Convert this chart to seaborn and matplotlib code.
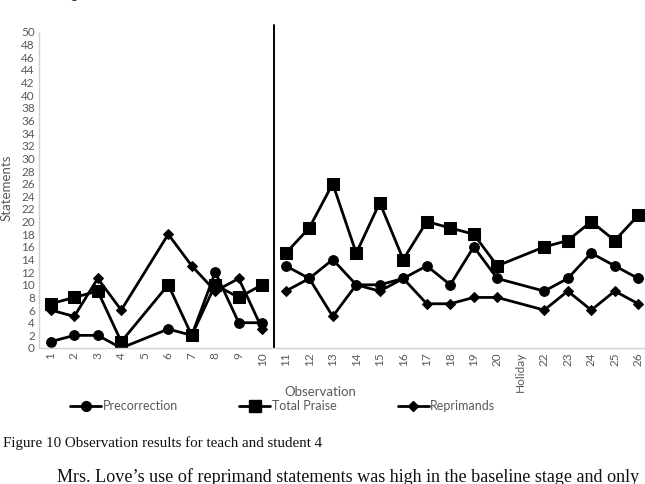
import numpy as np
import pandas as pd
import matplotlib
matplotlib.use("Agg")
import matplotlib.pyplot as plt
from matplotlib.lines import Line2D
import seaborn as sns

# observation labels (position 21 was a holiday, no data; observation 5 has no data)
obs_labels = [str(i) for i in range(1, 21)] + ['Holiday'] + [str(i) for i in range(22, 27)]
precorrection = [1, 2, 2, 0, None, 3, 2, 12, 4, 4,
                 13, 11, 14, 10, 10, 11, 13, 10, 16, 11, None, 9, 11, 15, 13, 11]
total_praise = [7, 8, 9, 1, None, 10, 2, 10, 8, 10,
                15, 19, 26, 15, 23, 14, 20, 19, 18, 13, None, 16, 17, 20, 17, 21]
reprimands = [6, 5, 11, 6, None, 18, 13, 9, 11, 3,
              9, 11, 5, 10, 9, 11, 7, 7, 8, 8, None, 6, 9, 6, 9, 7]
n_baseline = 10

series = {'Precorrection': precorrection, 'Total Praise': total_praise, 'Reprimands': reprimands}
styles = {'Precorrection': ('o', 7), 'Total Praise': ('s', 8), 'Reprimands': ('D', 5.5)}

rows = []
for name, vals in series.items():
    for i, v in enumerate(vals):
        if v is None:
            continue
        rows.append({'pos': i, 'value': v, 'series': name,
                     'phase': 'Baseline' if i < n_baseline else 'Intervention'})
df = pd.DataFrame(rows)

sns.set_style('white')
plt.rcParams['font.family'] = ['Lato', 'DejaVu Sans']
grey = '#595959'

fig = plt.figure(figsize=(6.45, 4.84), dpi=100)
ax = fig.add_axes([39 / 645, 1 - 348 / 484, 611 / 645, 316 / 484])

for name in series:
    mk, ms = styles[name]
    sns.lineplot(data=df[df.series == name], x='pos', y='value', units='phase',
                 estimator=None, color='black', marker=mk, markersize=ms,
                 markeredgecolor='black', lw=2, legend=False, ax=ax)

# phase change line
ax.axvline(n_baseline - 0.5, 0, 1.022, color='black', lw=1.4, clip_on=False)

ax.set_xlim(-0.5, len(obs_labels) - 0.5)
ax.set_ylim(0, 50)
ax.set_xticks(range(len(obs_labels)))
ax.set_xticklabels(obs_labels, rotation=90, fontsize=8.5, color=grey)
ax.set_yticks(range(0, 51, 2))
ax.set_yticklabels([str(t) for t in range(0, 51, 2)], fontsize=8.5, color=grey)
ax.tick_params(length=0, pad=3)
ax.set_xlabel('')
ax.set_ylabel('')
for s in ['top', 'right']:
    ax.spines[s].set_visible(False)
for s in ['left', 'bottom']:
    ax.spines[s].set_color('#d0d0d0')
    ax.spines[s].set_linewidth(1)

fig.text(7 / 645, 1 - 188 / 484, 'Statements', rotation=90, ha='center', va='center',
         fontsize=9.5, color=grey)
fig.text(320 / 645, 1 - 392 / 484, 'Observation', ha='center', va='center',
         fontsize=9.5, color=grey)

handles = [Line2D([], [], color='black', lw=2, marker=styles[n][0], markersize=styles[n][1])
           for n in series]
fig.legend(handles, list(series), loc='center left', bbox_to_anchor=(70 / 645, 1 - 406 / 484),
           ncol=3, frameon=False, fontsize=9, handlelength=2.5, handletextpad=0.1,
           columnspacing=4.9, borderpad=0, borderaxespad=0, labelcolor=grey)

# surrounding document text
fig.text(5 / 645, 1.012, 'and averages.', va='center', fontsize=11, color='#333333')
fig.text(3 / 645, 1 - 443 / 484, 'Figure 10 Observation results for teach and student 4',
         va='center', ha='left', fontsize=10.8, family=['Liberation Serif'], color='#111111')
fig.text(57 / 645, 1 - 477 / 484,
         'Mrs. Love\u2019s use of reprimand statements was high in the baseline stage and only',
         va='center', ha='left', fontsize=13.1, family=['Liberation Serif'], color='#111111')

fig.savefig('out.png', dpi=100)
